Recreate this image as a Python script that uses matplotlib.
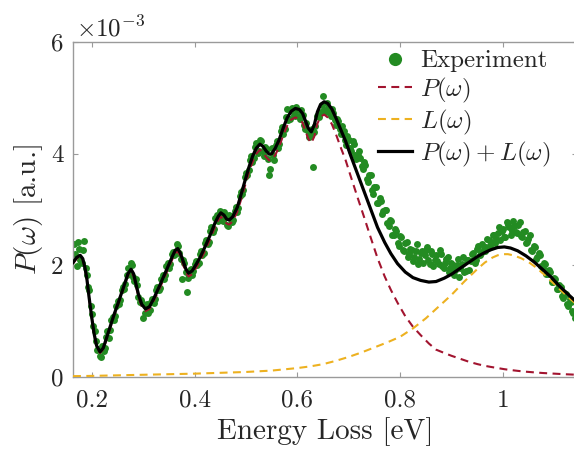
import numpy as np
import matplotlib
matplotlib.use("Agg")
import matplotlib.pyplot as plt

# ---------------- data (y values in units of 1e-3) ----------------
fit_x = [0.163, 0.170, 0.177, 0.182, 0.186, 0.190, 0.194, 0.199, 0.204, 0.209,
         0.2156, 0.222, 0.229, 0.236, 0.243, 0.250, 0.257, 0.264, 0.270, 0.276,
         0.281, 0.286, 0.291, 0.297, 0.304, 0.312, 0.320, 0.330, 0.339, 0.348,
         0.356, 0.362, 0.367, 0.372, 0.378, 0.383, 0.388, 0.395, 0.403, 0.411,
         0.420, 0.430, 0.440, 0.446, 0.451, 0.457, 0.462, 0.467, 0.474, 0.483,
         0.491, 0.499, 0.506, 0.513, 0.520, 0.527, 0.533, 0.539, 0.545, 0.550,
         0.557, 0.564, 0.572, 0.580, 0.588, 0.596, 0.604, 0.610, 0.616, 0.621,
         0.627, 0.633, 0.639, 0.645, 0.652, 0.659, 0.667, 0.675, 0.684, 0.694,
         0.704, 0.717, 0.730, 0.743, 0.756, 0.770, 0.782, 0.795, 0.810, 0.825,
         0.840, 0.856, 0.870, 0.886, 0.900, 0.919, 0.935, 0.951, 0.965, 0.977,
         0.990, 1.003, 1.015, 1.029, 1.045, 1.061, 1.077, 1.094, 1.110, 1.125,
         1.140]

total_fit = [2.05, 2.14, 2.18, 2.12, 1.97, 1.76, 1.45, 1.10, 0.78, 0.56,
             0.45, 0.52, 0.72, 0.92, 1.12, 1.30, 1.49, 1.68, 1.85, 1.93,
             1.85, 1.65, 1.46, 1.30, 1.22, 1.26, 1.40, 1.60, 1.79, 1.98,
             2.15, 2.27, 2.30, 2.22, 2.06, 1.93, 1.86, 1.90, 2.02, 2.15,
             2.33, 2.54, 2.77, 2.88, 2.94, 2.90, 2.83, 2.81, 2.87, 3.04,
             3.29, 3.55, 3.77, 3.96, 4.10, 4.17, 4.13, 4.05, 3.99, 4.00,
             4.10, 4.24, 4.45, 4.64, 4.76, 4.81, 4.79, 4.72, 4.58, 4.46,
             4.39, 4.52, 4.75, 4.88, 4.93, 4.90, 4.80, 4.64, 4.44, 4.22,
             3.96, 3.64, 3.32, 3.00, 2.68, 2.41, 2.21, 2.03, 1.88, 1.78,
             1.73, 1.70, 1.71, 1.77, 1.84, 1.96, 2.06, 2.16, 2.23, 2.28,
             2.32, 2.33, 2.31, 2.26, 2.17, 2.06, 1.93, 1.79, 1.63, 1.50,
             1.37]

p_fit = [2.03, 2.12, 2.16, 2.10, 1.95, 1.74, 1.43, 1.08, 0.76, 0.54,
         0.43, 0.50, 0.69, 0.89, 1.09, 1.27, 1.46, 1.65, 1.82, 1.89,
         1.81, 1.61, 1.42, 1.26, 1.18, 1.22, 1.36, 1.55, 1.74, 1.93,
         2.10, 2.22, 2.25, 2.17, 2.00, 1.87, 1.80, 1.84, 1.96, 2.09,
         2.26, 2.47, 2.70, 2.81, 2.87, 2.82, 2.75, 2.73, 2.79, 2.96,
         3.20, 3.46, 3.68, 3.86, 4.00, 4.07, 4.02, 3.94, 3.88, 3.89,
         3.98, 4.11, 4.32, 4.50, 4.61, 4.65, 4.62, 4.55, 4.40, 4.27,
         4.19, 4.31, 4.54, 4.66, 4.70, 4.65, 4.53, 4.35, 4.12, 3.88,
         3.59, 3.22, 2.86, 2.49, 2.13, 1.80, 1.56, 1.33, 1.09, 0.90,
         0.75, 0.60, 0.49, 0.43, 0.38, 0.32, 0.27, 0.23, 0.20, 0.18,
         0.16, 0.14, 0.125, 0.11, 0.095, 0.083, 0.072, 0.063, 0.055, 0.048,
         0.042]

l_x = [0.163, 0.20, 0.25, 0.30, 0.35, 0.40, 0.45, 0.50, 0.55, 0.60,
       0.625, 0.65, 0.675, 0.70, 0.725, 0.75, 0.775, 0.80, 0.825, 0.85,
       0.875, 0.90, 0.925, 0.95, 0.965, 0.98, 0.99, 1.00, 1.01, 1.02,
       1.035, 1.05, 1.065, 1.08, 1.095, 1.11, 1.125, 1.14]
l_fit = [0.015, 0.02, 0.03, 0.04, 0.05, 0.06, 0.075, 0.09, 0.115, 0.16,
         0.19, 0.23, 0.29, 0.36, 0.44, 0.53, 0.62, 0.72, 0.87, 1.05,
         1.26, 1.47, 1.71, 1.93, 2.05, 2.14, 2.18, 2.20, 2.20, 2.18,
         2.13, 2.06, 1.96, 1.84, 1.71, 1.58, 1.45, 1.33]

# experimental points, first sampling set
exp_x1 = [0.165, 0.170, 0.175, 0.180, 0.185, 0.190, 0.195, 0.200, 0.205, 0.210,
          0.215, 0.220, 0.225, 0.230, 0.235, 0.240, 0.245, 0.250, 0.255, 0.260,
          0.265, 0.270, 0.275, 0.280, 0.285, 0.290, 0.295, 0.300, 0.305, 0.310,
          0.315, 0.320, 0.325, 0.330, 0.335, 0.340, 0.345, 0.350, 0.355, 0.360,
          0.365, 0.370, 0.375, 0.380, 0.385, 0.390, 0.395, 0.400, 0.405, 0.410,
          0.415, 0.420, 0.425, 0.430, 0.435, 0.440, 0.445, 0.450, 0.455, 0.460,
          0.465, 0.470, 0.475, 0.480, 0.485, 0.490, 0.495, 0.500, 0.505, 0.510,
          0.515, 0.520, 0.525, 0.530, 0.535, 0.540, 0.545, 0.550, 0.555, 0.560,
          0.565, 0.570, 0.575, 0.580, 0.585, 0.590, 0.595, 0.600, 0.605, 0.610,
          0.615, 0.620, 0.625, 0.630, 0.635, 0.640, 0.645, 0.650, 0.655, 0.660,
          0.665, 0.670, 0.675, 0.680, 0.685, 0.690, 0.695, 0.700, 0.705, 0.710,
          0.715, 0.720, 0.725, 0.730, 0.735, 0.740, 0.745, 0.750, 0.755, 0.760,
          0.765, 0.770, 0.775, 0.780, 0.785, 0.790, 0.795, 0.800, 0.805, 0.810,
          0.815, 0.820, 0.825, 0.830, 0.835, 0.840, 0.845, 0.850, 0.855, 0.860,
          0.865, 0.870, 0.875, 0.880, 0.885, 0.890, 0.895, 0.900, 0.905, 0.910,
          0.915, 0.920, 0.925, 0.930, 0.935, 0.940, 0.945, 0.950, 0.955, 0.960,
          0.965, 0.970, 0.975, 0.980, 0.985, 0.990, 0.995, 1.000, 1.005, 1.010,
          1.015, 1.020, 1.025, 1.030, 1.035, 1.040, 1.045, 1.050, 1.055, 1.060,
          1.065, 1.070, 1.075, 1.080, 1.085, 1.090, 1.095, 1.100, 1.105, 1.110,
          1.115, 1.120, 1.125, 1.130, 1.135, 1.140]
exp_y1 = [2.38, 1.98, 2.30, 2.05, 2.43, 1.82, 1.55, 1.12, 0.82, 0.48,
          0.38, 0.55, 0.52, 0.82, 0.85, 1.08, 1.10, 1.36, 1.38, 1.62,
          1.66, 1.95, 2.05, 1.80, 1.76, 1.44, 1.38, 1.05, 1.28, 1.15,
          1.35, 1.33, 1.56, 1.55, 1.76, 1.75, 1.98, 1.96, 2.20, 2.18,
          2.38, 2.22, 1.75, 2.05, 1.52, 1.92, 1.82, 2.02, 2.00, 2.20,
          2.18, 2.40, 2.38, 2.62, 2.60, 2.85, 2.80, 2.98, 2.80, 2.86,
          2.70, 2.88, 2.82, 3.05, 3.02, 3.32, 3.35, 3.66, 3.70, 3.95,
          3.92, 4.20, 4.05, 4.22, 3.95, 4.08, 3.62, 4.10, 3.88, 4.22,
          4.18, 4.48, 4.45, 4.80, 4.62, 4.82, 4.68, 4.78, 4.62, 4.70,
          4.45, 4.40, 4.32, 3.77, 4.50, 4.70, 4.75, 5.04, 4.75, 4.82,
          4.68, 4.72, 4.52, 4.58, 4.35, 4.40, 4.15, 4.25, 4.05, 4.18,
          3.90, 4.05, 3.78, 3.85, 3.55, 3.62, 3.35, 3.40, 3.12, 3.20,
          2.92, 3.00, 2.75, 2.82, 2.55, 2.65, 2.40, 2.52, 2.28, 2.40,
          2.15, 2.30, 2.08, 2.25, 2.02, 2.22, 2.05, 2.28, 2.10, 2.25,
          1.98, 2.18, 2.02, 2.20, 1.95, 2.12, 1.88, 2.05, 1.82, 2.00,
          1.80, 2.02, 1.88, 2.10, 1.92, 2.20, 2.05, 2.30, 2.18, 2.38,
          2.25, 2.48, 2.35, 2.55, 2.40, 2.58, 2.45, 2.65, 2.50, 2.72,
          2.55, 2.80, 2.60, 2.72, 2.52, 2.60, 2.40, 2.48, 2.28, 2.35,
          2.12, 2.22, 1.98, 2.05, 1.85, 1.92, 1.70, 1.78, 1.58, 1.65,
          1.45, 1.50, 1.30, 1.40, 1.18, 1.05]

# experimental points, second (interleaved) sampling set
exp_x2 = [0.1675, 0.1725, 0.1775, 0.1825, 0.1875, 0.1925, 0.1975, 0.2025, 0.2075, 0.2125,
          0.2175, 0.2225, 0.2275, 0.2325, 0.2375, 0.2425, 0.2475, 0.2525, 0.2575, 0.2625,
          0.2675, 0.2725, 0.2775, 0.2825, 0.2875, 0.2925, 0.2975, 0.3025, 0.3075, 0.3125,
          0.3175, 0.3225, 0.3275, 0.3325, 0.3375, 0.3425, 0.3475, 0.3525, 0.3575, 0.3625,
          0.3675, 0.3725, 0.3775, 0.3825, 0.3875, 0.3925, 0.3975, 0.4025, 0.4075, 0.4125,
          0.4175, 0.4225, 0.4275, 0.4325, 0.4375, 0.4425, 0.4475, 0.4525, 0.4575, 0.4625,
          0.4675, 0.4725, 0.4775, 0.4825, 0.4875, 0.4925, 0.4975, 0.5025, 0.5075, 0.5125,
          0.5175, 0.5225, 0.5275, 0.5325, 0.5375, 0.5425, 0.5475, 0.5525, 0.5575, 0.5625,
          0.5675, 0.5725, 0.5775, 0.5825, 0.5875, 0.5925, 0.5975, 0.6025, 0.6075, 0.6125,
          0.6175, 0.6225, 0.6275, 0.6325, 0.6375, 0.6425, 0.6475, 0.6525, 0.6575, 0.6625,
          0.6675, 0.6725, 0.6775, 0.6825, 0.6875, 0.6925, 0.6975, 0.7025, 0.7075, 0.7125,
          0.7175, 0.7225, 0.7275, 0.7325, 0.7375, 0.7425, 0.7475, 0.7525, 0.7575, 0.7625,
          0.7675, 0.7725, 0.7775, 0.7825, 0.7875, 0.7925, 0.7975, 0.8025, 0.8075, 0.8125,
          0.8175, 0.8225, 0.8275, 0.8325, 0.8375, 0.8425, 0.8475, 0.8525, 0.8575, 0.8625,
          0.8675, 0.8725, 0.8775, 0.8825, 0.8875, 0.8925, 0.8975, 0.9025, 0.9075, 0.9125,
          0.9175, 0.9225, 0.9275, 0.9325, 0.9375, 0.9425, 0.9475, 0.9525, 0.9575, 0.9625,
          0.9675, 0.9725, 0.9775, 0.9825, 0.9875, 0.9925, 0.9975, 1.0025, 1.0075, 1.0125,
          1.0175, 1.0225, 1.0275, 1.0325, 1.0375, 1.0425, 1.0475, 1.0525, 1.0575, 1.0625,
          1.0675, 1.0725, 1.0775, 1.0825, 1.0875, 1.0925, 1.0975, 1.1025, 1.1075, 1.1125,
          1.1175, 1.1225, 1.1275, 1.1325, 1.1375]
exp_y2 = [2.20, 2.42, 2.10, 2.28, 1.95, 1.62, 1.28, 0.92, 0.65, 0.50,
          0.35, 0.46, 0.72, 0.70, 1.02, 1.02, 1.28, 1.30, 1.55, 1.58,
          1.82, 1.85, 2.00, 1.72, 1.65, 1.35, 1.32, 1.15, 1.30, 1.20,
          1.40, 1.40, 1.62, 1.60, 1.82, 1.82, 2.04, 2.02, 2.24, 2.20,
          2.34, 2.12, 2.10, 1.88, 1.78, 1.94, 1.90, 2.08, 2.05, 2.25,
          2.22, 2.45, 2.42, 2.68, 2.65, 2.90, 2.82, 2.88, 2.95, 2.72,
          2.90, 2.78, 2.98, 2.95, 3.25, 3.28, 3.58, 3.62, 3.88, 3.85,
          4.12, 4.02, 4.25, 4.05, 4.12, 3.90, 3.72, 3.98, 4.15, 4.10,
          4.40, 4.35, 4.65, 4.60, 4.78, 4.70, 4.84, 4.68, 4.78, 4.52,
          4.55, 4.30, 4.45, 4.38, 4.68, 4.65, 4.88, 4.78, 4.90, 4.72,
          4.80, 4.60, 4.62, 4.45, 4.50, 4.25, 4.32, 4.10, 4.22, 3.98,
          3.98, 3.92, 3.72, 3.80, 3.50, 3.62, 3.28, 3.40, 3.12, 3.15,
          2.98, 3.00, 2.70, 2.80, 2.55, 2.62, 2.35, 2.50, 2.25, 2.42,
          2.20, 2.28, 2.15, 2.38, 2.12, 2.26, 2.18, 2.32, 2.02, 2.20,
          2.10, 2.08, 2.28, 1.98, 2.05, 2.15, 1.95, 2.00, 1.92, 2.12,
          1.95, 2.15, 1.90, 2.10, 2.08, 2.22, 2.10, 2.35, 2.22, 2.30,
          2.32, 2.45, 2.42, 2.55, 2.48, 2.68, 2.62, 2.50, 2.78, 2.68,
          2.62, 2.70, 2.58, 2.78, 2.50, 2.62, 2.42, 2.55, 2.25, 2.32,
          2.15, 2.18, 1.95, 2.02, 1.85, 1.88, 1.70, 1.76, 1.58, 1.62,
          1.42, 1.48, 1.28, 1.35, 1.15]

xticks = [0.2, 0.4, 0.6, 0.8, 1.0]
xtick_labels = ["0.2", "0.4", "0.6", "0.8", "1"]
yticks = [0, 2, 4, 6]
ytick_labels = ["0", "2", "4", "6"]

# ---------------- style ----------------
plt.rcParams["font.family"] = "serif"
plt.rcParams["font.serif"] = ["cmr10", "DejaVu Serif"]
plt.rcParams["mathtext.fontset"] = "cm"
plt.rcParams["axes.formatter.use_mathtext"] = True
plt.rcParams["axes.unicode_minus"] = False

GREEN = "#238B22"
RED = "#A2142F"
YELLOW = "#EDB120"
SPINE = "#9a9a9a"
TXT = "#262626"

fig = plt.figure(figsize=(5.74, 4.53), dpi=100)
ax = fig.add_axes([73 / 574, 1 - 377 / 453, 503.5 / 574, 335 / 453])

exp_x = exp_x1 + exp_x2
exp_y = exp_y1 + exp_y2
ax.plot(exp_x, exp_y, linestyle="none", marker="o", markersize=5.0,
        markeredgewidth=0, color=GREEN, label="Experiment", zorder=2)
ax.plot(fit_x, p_fit, color=RED, lw=1.5, linestyle=(0, (3.8, 2.6)),
        label=r"$P(\omega)$", zorder=3)
ax.plot(l_x, l_fit, color=YELLOW, lw=1.5, linestyle=(0, (3.8, 2.6)),
        label=r"$L(\omega)$", zorder=3)
ax.plot(fit_x, total_fit, color="black", lw=2.3, solid_joinstyle="round",
        label=r"$P(\omega)+L(\omega)$", zorder=4)

ax.set_xlim(0.163, 1.1435)
ax.set_ylim(0, 6)
ax.set_xticks(xticks)
ax.set_xticklabels(xtick_labels)
ax.set_yticks(yticks)
ax.set_yticklabels(ytick_labels)

for s in ax.spines.values():
    s.set_color(SPINE)
    s.set_linewidth(1.0)
ax.tick_params(direction="in", length=3.6, width=0.8, color=SPINE,
               labelsize=18, labelcolor=TXT, top=True, right=True)
ax.tick_params(axis="x", pad=9)
ax.tick_params(axis="y", pad=7)

ax.set_xlabel("Energy Loss [eV]", fontsize=21, color=TXT, labelpad=4)
ax.set_ylabel(r"$P(\omega)$ [a.u.]", fontsize=21, color=TXT, labelpad=4)

fig.text(76 / 574, 1 - 36 / 453, r"$\times 10^{\mathsf{-3}}$", fontsize=18,
         color=TXT, ha="left", va="baseline")

leg = ax.legend(loc="upper left", bbox_to_anchor=((378 - 73) / 503.5, 1 - (50 - 42) / 335),
                frameon=False, fontsize=18, handlelength=1.35, handletextpad=0.35,
                labelspacing=0.12, borderaxespad=0, borderpad=0)
for t in leg.get_texts():
    t.set_color(TXT)
leg.legend_handles[0].set_markersize(9.5)

fig.savefig("out.png", dpi=100)
